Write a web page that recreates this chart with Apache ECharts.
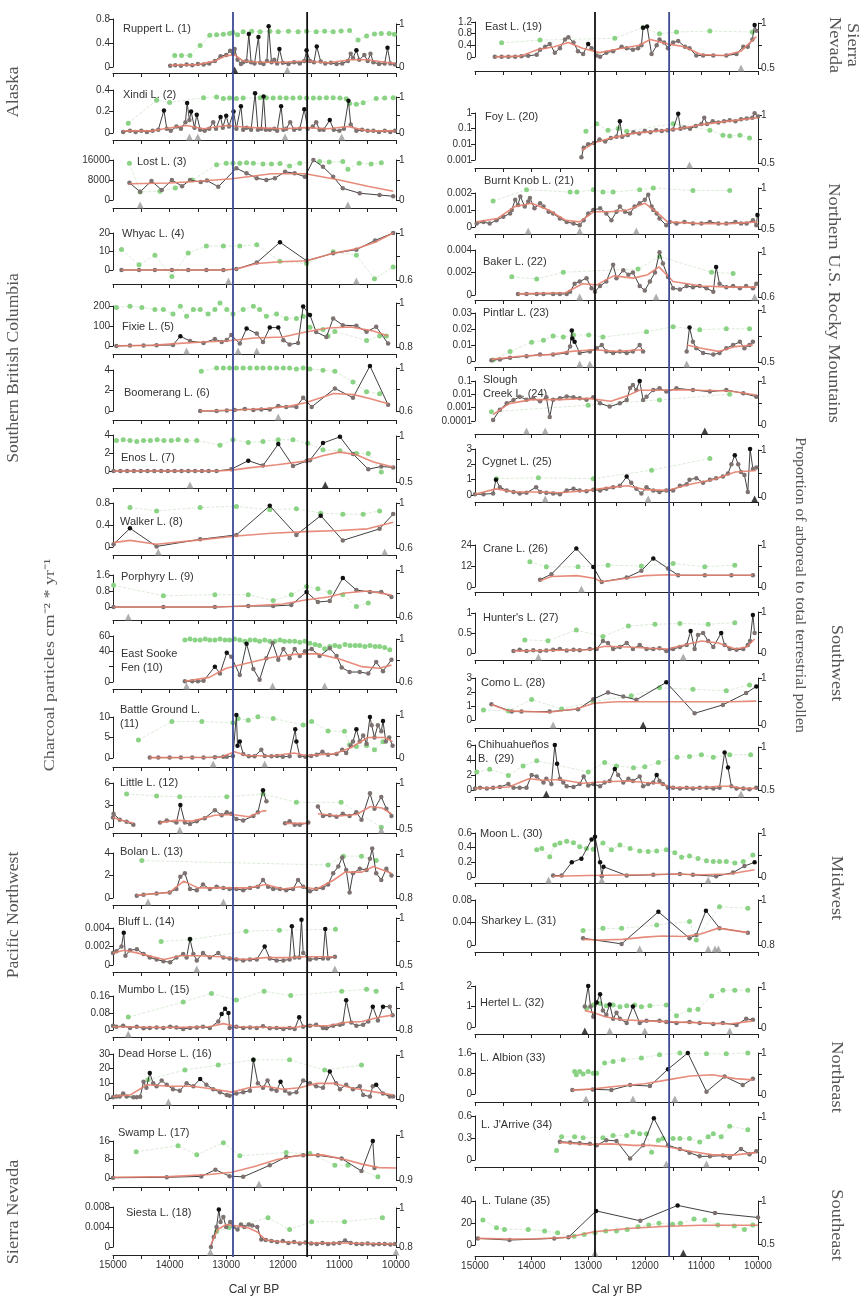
<!DOCTYPE html>
<html><head><meta charset="utf-8">
<script src="https://cdn.jsdelivr.net/npm/echarts@6/dist/echarts.min.js"></script>
<style>html,body{margin:0;padding:0;background:#fff}#c{width:862px;height:1301px}</style>
</head><body><div id="c"></div>
<script>
// ---------- DATA (age cal yr BP, value) ----------
const names = ["Ruppert L. (1)","Xindi L. (2)","Lost L. (3)","Whyac L. (4)","Fixie L. (5)","Boomerang L. (6)","Enos L. (7)","Walker L. (8)","Porphyry L. (9)","East Sooke\nFen (10)","Battle Ground L.\n(11)","Little L. (12)","Bolan L. (13)","Bluff L. (14)","Mumbo L. (15)","Dead Horse L. (16)","Swamp L. (17)","Siesta L. (18)","East L. (19)","Foy L. (20)","Burnt Knob L. (21)","Baker L. (22)","Pintlar L. (23)","Slough\nCreek L. (24)","Cygnet L. (25)","Crane L. (26)","Hunter's L. (27)","Como L. (28)","Chihuahueños\nB.  (29)","Moon L. (30)","Sharkey L. (31)","Hertel L. (32)","L. Albion (33)","L. J'Arrive (34)","L. Tulane (35)"];
const xTicks = [15000,14000,13000,12000,11000,10000];
const leftMax  = [0.8,0.4,16000,20,200,4,4,0.8,1.6,60,10,6,4,0.004,0.16,30,16,0.008, 1.2,1,0.002,0.004,0.03,0.1,3,24,1,3,6,0.6,0.08,2,1.6,0.6,40];
const leftStep = [0.4,0.2,8000,10,100,2,2,0.4,0.8,20,5,3,2,0.002,0.08,10,8,0.004, 0.4,0,0.001,0.002,0.01,0,1,12,0.5,1,2,0.2,0.04,1,0.8,0.3,20];
const leftLogMin = {19:0.001, 23:0.0001};
const leftHidden = {9:[20]};
const rightMin = [0,0,0,0.6,0.8,0.6,0.5,0.6,0.6,0.6,0,0.5,0.8,0.5,0.8,0,0.9,0.8, 0.5,0.5,0.5,0.6,0.5,0,0,0,0,0,0.5,0,0.8,0,0,0,0.5];
const youngerDryas = [12880, 11570];

const c1=[[13990,0.02],[13900,0.03],[13800,0.02],[13700,0.04],[13600,0.03],[13500,0.05],[13400,0.04],[13300,0.06],[13200,0.1],[13100,0.18],[13000,0.2],[12930,0.27],[12880,0.22],[12850,0.3],[12800,0.12],[12740,0.05],[12700,0.08],[12640,0.1],[12600,0.55],[12560,0.08],[12500,0.06],[12430,0.5],[12400,0.07],[12340,0.05],[12280,0.1],[12250,0.68],[12200,0.08],[12150,0.12],[12100,0.06],[12060,0.3],[12000,0.07],[11900,0.05],[11800,0.08],[11700,0.06],[11620,0.1],[11580,0.28],[11520,0.1],[11450,0.08],[11400,0.34],[11330,0.09],[11250,0.06],[11150,0.07],[11050,0.05],[10950,0.06],[10850,0.1],[10800,0.22],[10760,0.15],[10700,0.28],[10650,0.12],[10560,0.2],[10500,0.1],[10450,0.22],[10400,0.08],[10300,0.05],[10200,0.06],[10150,0.32],[10100,0.06],[10020,0.04]];
const s1=[[13990,0.03],[13500,0.04],[13200,0.1],[13000,0.19],[12850,0.2],[12700,0.1],[12400,0.08],[12000,0.08],[11600,0.1],[11200,0.07],[10800,0.12],[10500,0.12],[10200,0.08],[10020,0.06]];
const p1=[[13910,0.27],[13790,0.27],[13640,0.27],[13460,0.5],[13290,0.74],[13170,0.75],[13050,0.76],[12940,0.78],[12880,0.8],[12800,0.75],[12700,0.82],[12550,0.83],[12400,0.82],[12230,0.83],[12080,0.82],[11900,0.83],[11730,0.82],[11580,0.83],[11410,0.82],[11260,0.83],[11110,0.82],[10970,0.84],[10820,0.85],[10670,0.63],[10520,0.72],[10380,0.77],[10260,0.78],[10120,0.78],[10030,0.76]];
const tg1=[11920], tb1=[12850];

const c2=[[14820,0.01],[14700,0.02],[14600,0.01],[14500,0.02],[14400,0.01],[14300,0.02],[14200,0.03],[14100,0.21],[14050,0.04],[13980,0.02],[13880,0.06],[13800,0.04],[13720,0.1],[13690,0.28],[13650,0.12],[13620,0.2],[13560,0.05],[13520,0.17],[13460,0.03],[13380,0.02],[13300,0.04],[13230,0.1],[13180,0.04],[13100,0.15],[13060,0.05],[13000,0.16],[12950,0.06],[12870,0.2],[12820,0.04],[12740,0.25],[12700,0.03],[12640,0.05],[12560,0.03],[12490,0.37],[12440,0.03],[12380,0.04],[12340,0.34],[12300,0.03],[12230,0.03],[12150,0.04],[12100,0.02],[12030,0.25],[11990,0.03],[11940,0.04],[11870,0.1],[11800,0.03],[11700,0.04],[11620,0.22],[11560,0.04],[11470,0.06],[11410,0.1],[11350,0.03],[11280,0.03],[11170,0.12],[11100,0.03],[11000,0.02],[10920,0.04],[10840,0.3],[10800,0.08],[10700,0.02],[10600,0.03],[10500,0.02],[10400,0.02],[10300,0.01],[10200,0.02],[10100,0.01],[10020,0.02]];
const s2=[[14820,0.02],[14300,0.02],[14100,0.04],[13700,0.07],[13400,0.04],[13000,0.07],[12800,0.06],[12500,0.05],[12000,0.04],[11600,0.05],[11200,0.04],[10850,0.06],[10500,0.02],[10020,0.02]];
const p2=[[14730,0.27],[14230,0.91],[14000,0.85],[13400,0.98],[13170,1.0],[13050,0.96],[12940,0.97],[12820,0.96],[12700,0.97],[12400,0.98],[12290,0.98],[12170,0.97],[12050,0.98],[11940,0.97],[11820,0.97],[11700,0.98],[11580,0.97],[11460,0.97],[11350,0.97],[11230,0.98],[11110,0.98],[10990,0.97],[10880,0.95],[10820,0.82],[10700,0.8],[10580,0.84],[10350,0.96],[10200,0.97],[10050,0.98]];
const tg2=[13650,13500,11960,10960], tb2=[];

const c3=[[14710,6900],[14520,3300],[14320,7600],[14140,4000],[13960,8000],[13780,5500],[13640,8000],[13450,7200],[13340,7800],[13140,5300],[12820,12700],[12640,10700],[12460,8700],[12290,8000],[12140,8700],[11960,11300],[11790,10700],[11610,9300],[11460,16000],[11290,13300],[11110,9300],[10940,4700],[10640,2700],[10290,2000],[10050,1500]];
const s3=[[14710,6500],[14000,6800],[13500,7500],[12900,8500],[12200,10500],[11600,10500],[11000,8000],[10500,5500],[10050,3500]];
const p3=[[14710,0.92],[14520,0.2],[14170,0.22],[13900,0.3],[13600,0.5],[13170,0.88],[13000,0.92],[12880,0.92],[12760,0.92],[12640,0.93],[12520,0.92],[12350,0.9],[12200,0.9],[12050,0.91],[11880,0.85],[11700,0.92],[11350,0.96],[11180,0.95],[10940,0.96],[10850,0.77],[10650,0.92],[10440,0.9],[10260,0.93]];
const tg3=[14520,10850], tb3=[];

const c4=[[14850,0],[14540,0],[14260,0],[13960,0],[13670,0],[13350,0],[13050,0],[12820,0.5],[12460,4],[12050,15],[11580,5],[11110,9],[10700,11],[10370,16],[10050,20]];
const s4=[[14850,0],[13050,0],[12820,0.5],[12460,3.5],[12050,4.5],[11580,5],[11110,9],[10700,11.5],[10370,15],[10050,20]];
const p4=[[14850,0.86],[14540,0.73],[14260,0.81],[13960,0.63],[13670,0.83],[13350,0.89],[13050,0.89],[12760,0.89],[12460,0.9],[12050,0.76],[11580,0.74],[11110,0.84],[10700,0.81],[10380,0.61],[10050,0.71]];
const tg4=[12960,10700], tb4=[];

const c5=[[14940,0],[14700,2],[14460,3],[14230,4],[13940,5],[13810,49],[13640,25],[13400,15],[13200,35],[13080,20],[12990,30],[12910,55],[12760,12],[12640,87],[12460,62],[12350,20],[12230,92],[12080,92],[11990,29],[11880,8],[11730,15],[11640,197],[11520,155],[11410,70],[11230,45],[11110,138],[10940,104],[10700,101],[10520,71],[10350,96],[10140,12]];
const s5=[[14940,1],[14300,3],[13900,12],[13400,20],[13000,25],[12500,40],[12000,45],[11600,70],[11200,90],[10800,95],[10400,75],[10140,50]];
const p5=[[14940,0.98],[14700,0.985],[14490,0.98],[14260,0.97],[14110,0.97],[13940,0.95],[13810,0.985],[13700,0.94],[13580,0.97],[13460,0.97],[13320,0.95],[13200,0.97],[13110,1.0],[12990,0.97],[12880,0.95],[12700,0.97],[12520,0.985],[12410,0.97],[12290,0.94],[12110,0.95],[11940,0.93],[11760,0.93],[11640,0.94],[11520,0.89],[11290,0.88],[11200,0.85],[11080,0.87],[10520,0.83],[10290,0.85],[10170,0.85]];
const tg5=[13700,12790,12460], tb5=[];

const c6=[[13460,0],[13170,0],[12990,0.05],[12850,0.1],[12670,0.2],[12520,0.1],[12380,0.15],[12230,0.15],[12080,0.5],[11940,0.4],[11760,0.4],[11640,1.3],[11490,0.4],[11080,2.2],[10760,1.3],[10460,4.4],[10140,0.6]];
const s6=[[13460,0],[12800,0.1],[12300,0.25],[11900,0.45],[11600,0.8],[11100,1.7],[10750,1.6],[10450,1.2],[10140,0.7]];
const p6=[[13440,0.97],[13170,1.0],[13050,1.0],[12940,1.0],[12820,1.0],[12700,1.0],[12580,1.0],[12460,1.0],[12350,1.0],[12230,1.0],[12110,1.0],[11990,1.0],[11880,1.0],[11760,0.99],[11640,1.0],[11520,0.99],[11290,0.98],[11080,0.97],[10760,0.87],[10520,0.78],[10290,0.76]];
const tg6=[12080], tb6=[];

const c7=[[14990,0],[14870,0],[14750,0],[14630,0],[14510,0],[14390,0],[14270,0],[14150,0],[14030,0],[13910,0],[13790,0],[13670,0],[13550,0],[13430,0],[13310,0],[13170,0],[12910,0.2],[12610,1.15],[12350,0.6],[12080,3.0],[11820,0.55],[11580,1.1],[11520,1.2],[11290,3.1],[10990,3.8],[10760,1.9],[10490,0.2],[10260,0.5],[10050,0.4]];
const s7=[[14990,0],[13170,0],[12900,0.1],[12600,0.35],[12100,0.7],[11600,1.1],[11300,1.7],[11000,2.1],[10700,1.8],[10400,1.0],[10050,0.45]];
const p7=[[14940,0.95],[14820,0.96],[14700,0.95],[14580,0.94],[14460,0.95],[14340,0.95],[14220,0.96],[14100,0.95],[13970,0.95],[13850,0.96],[13700,0.95],[13520,0.95],[13110,0.9],[12880,0.96],[12610,0.93],[12350,0.94],[12080,0.96],[11820,0.96],[11560,0.92],[11290,0.85],[10990,0.84],[10700,0.81],[10490,0.81],[10260,0.61]];
const tg7=[13640], tb7=[11250];

const c8=[[14990,0.05],[14700,0.34],[14230,0.01],[13460,0.14],[12820,0.22],[12230,0.75],[11760,0.22],[11330,0.57],[10940,0.12],[10290,0.33],[10050,0.6]];
const s8=[[14990,0.08],[14700,0.12],[14230,0.05],[13460,0.13],[12820,0.2],[12200,0.25],[11600,0.28],[11000,0.3],[10500,0.33],[10050,0.45]];
const p8=[[14700,0.96],[14230,0.93],[13460,0.96],[12820,0.97],[12230,0.94],[11760,0.95],[11330,0.91],[10940,0.9],[10580,0.9],[10290,0.93]];
const tg8=[14200,10200], tb8=[];

const c9=[[14990,0],[14110,0],[13200,0],[12610,0.05],[12170,0.05],[11850,0.1],[11580,0.75],[11380,0.25],[11170,0.3],[10940,1.45],[10700,0.85],[10460,0.75],[10260,0.75],[10080,0.5]];
const s9=[[14990,0],[13200,0],[12600,0.05],[12000,0.15],[11600,0.35],[11200,0.5],[10900,0.7],[10500,0.8],[10080,0.6]];
const p9=[[14990,0.87],[14110,0.78],[13200,0.79],[12610,0.79],[12170,0.74],[11850,0.79],[11580,0.86],[11380,0.84],[11170,0.81],[10940,0.79],[10700,0.69],[10490,0.72]];
const tg9=[14730], tb9=[];

const c10=[[13730,1],[13600,1],[13500,1],[13400,1.5],[13200,20],[13110,11],[12990,38],[12910,33],[12760,9],[12640,50],[12520,17],[12410,3],[12290,31],[12180,51],[12080,29],[11990,43],[11880,31],[11790,43],[11700,34],[11610,40],[11490,43],[11350,34],[11170,44],[11050,34],[10960,19],[10820,13],[10640,13],[10490,11],[10350,26],[10230,14],[10080,29]];
const s10=[[13730,1],[13300,6],[13000,18],[12600,25],[12200,32],[11800,36],[11400,37],[11000,30],[10600,20],[10300,18],[10080,22]];
const p10=[[13730,0.99],[13640,1.0],[13550,0.99],[13460,0.99],[13370,1.0],[13290,0.99],[13200,0.99],[13110,1.0],[13020,0.99],[12940,0.99],[12850,1.0],[12760,0.99],[12670,0.98],[12580,0.99],[12490,0.99],[12410,0.98],[12320,0.99],[12230,0.98],[12140,0.98],[12050,0.99],[11970,0.98],[11880,0.98],[11790,0.98],[11700,0.97],[11610,0.98],[11520,0.96],[11430,0.95],[11350,0.94],[11260,0.91],[11170,0.93],[11080,0.94],[11000,0.93],[10900,0.95],[10810,0.94],[10720,0.94],[10640,0.94],[10550,0.93],[10460,0.94],[10370,0.93],[10290,0.93],[10200,0.92],[10110,0.9]];
const tg10=[13700,12180,11260], tb10=[];

const c11=[[14350,0.1],[14200,0.1],[14000,0.1],[13800,0.1],[13600,0.15],[13400,0.1],[13200,0.2],[13050,0.3],[12990,0.3],[12880,0.5],[12820,10.5],[12800,3],[12760,4],[12700,1],[12600,0.4],[12500,0.4],[12380,2],[12320,0.5],[12200,0.4],[12100,0.5],[12000,0.3],[11880,0.4],[11780,7],[11760,4],[11700,0.5],[11600,0.3],[11500,0.5],[11400,0.8],[11300,1.5],[11200,0.8],[11050,1],[10950,2],[10880,1.2],[10800,3],[10760,4],[10700,7],[10640,4],[10580,5.5],[10520,3.5],[10460,10],[10430,8],[10380,5],[10320,8],[10260,6.5],[10230,9],[10180,4],[10120,5],[10060,3]];
const s11=[[14350,0.1],[13100,0.2],[12850,1.5],[12650,0.6],[12200,0.5],[11800,1.2],[11600,0.6],[11100,1],[10800,2.5],[10500,5],[10200,5],[10060,4]];
const p11=[[14550,0.42],[13960,0.85],[13430,0.85],[12880,0.82],[12790,0.92],[12610,0.88],[12440,0.96],[12170,0.92],[11640,0.77],[11490,0.85],[11200,0.63],[10910,0.62],[10820,0.31],[10700,0.27],[10520,0.29],[10380,0.19],[10230,0.38]];
const tg11=[13230,12320], tb11=[];

const c12=[[15000,1.3],[14990,1.8],[14880,1.0],[14760,0.7],[14640,0.3],[14400,null],[14170,0.6],[14050,0.9],[13880,0.6],[13810,3.0],[13730,0.6],[13640,0.4],[13520,0.8],[13380,1.2],[13200,2.3],[13080,1.6],[12990,2.0],[12910,1.8],[12820,1.1],[12700,0.9],[12520,1.5],[12440,2.0],[12350,5.0],[12290,3.5],[12100,null],[11960,0.5],[11880,0.8],[11790,0.3],[11700,0.3],[11550,0.6],[11450,null],[11380,2.8],[11290,1.5],[11170,1.6],[11050,1.4],[10940,1.8],[10820,1.5],[10700,2.0],[10610,1.0],[10460,4.6],[10380,2.5],[10260,4.1],[10170,2.5],[10080,1.5]];
const s12=[[15000,1.3],[14880,1.0],[14640,0.5],[14400,null],[14170,0.6],[13900,0.9],[13600,0.8],[13200,1.6],[12900,1.7],[12600,1.4],[12350,2.2],[12290,2.2],[12100,null],[11960,0.5],[11550,0.5],[11450,null],[11380,1.8],[11000,1.5],[10700,1.7],[10450,2.8],[10250,2.6],[10080,1.8]];
const p12=[[14760,0.88],[14230,0.86],[13820,0.85],[12990,0.85],[12350,0.88],[11760,0.79],[10970,0.79],[10260,0.52]];
const tg12=[13820,10260], tb12=[];

const c13=[[14580,0.2],[14460,0.3],[14230,0.4],[14000,0.5],[13880,0.8],[13810,1.9],[13730,2.2],[13640,0.8],[13520,0.7],[13410,1.2],[13290,0.8],[13170,1.0],[13050,0.9],[12940,0.8],[12820,0.8],[12700,0.7],[12580,0.9],[12440,1.0],[12350,1.6],[12260,1.0],[12170,0.8],[12050,0.8],[11940,0.7],[11820,0.8],[11730,1.6],[11640,1.0],[11520,0.6],[11410,0.8],[11290,0.9],[11200,1.2],[11110,2.2],[11020,2.8],[10950,3.6],[10880,2.5],[10820,0.5],[10760,2.2],[10640,2.6],[10520,2.5],[10460,3.5],[10420,4.4],[10350,2.2],[10260,1.6],[10170,2.6],[10080,2.0]];
const s13=[[14580,0.25],[14000,0.5],[13750,1.5],[13500,0.9],[13000,0.9],[12600,0.9],[12300,1.2],[12000,0.8],[11700,1.0],[11400,0.8],[11100,1.6],[10900,2.3],[10600,2.3],[10400,2.8],[10080,2.2]];
const p13=[[14490,0.97],[11200,0.95],[10930,0.99],[10610,0.99],[10350,0.97]];
const tg13=[14380,13050], tb13=[];

const c14=[[15000,0.0013],[14940,0.0015],[14850,0.002],[14810,0.0035],[14780,0.001],[14700,0.0016],[14580,0.0017],[14460,0.0012],[14350,0.0008],[14230,0.0006],[14110,0.0004],[13990,0.0003],[13880,0.0008],[13760,0.0012],[13700,0.0008],[13640,0.0028],[13580,0.0012],[13520,0.0005],[13410,0.0013],[13290,0.0008],[13140,0.0013],[13050,0.0008],[12940,0.0007],[12820,0.0006],[12700,0.0005],[12580,0.0006],[12460,0.0006],[12320,0.002],[12230,0.0007],[12110,0.0005],[11990,0.0005],[11880,0.0006],[11840,0.0042],[11790,0.0008],[11710,0.0008],[11670,0.0049],[11640,0.0013],[11520,0.0006],[11410,0.0007],[11290,0.0007],[11250,0.0039],[11200,0.0007],[11080,0.0009]];
const s14=[[15000,0.0013],[14800,0.0016],[14500,0.0012],[14100,0.0006],[13800,0.001],[13500,0.001],[13100,0.0009],[12700,0.0006],[12300,0.0008],[11900,0.0008],[11600,0.0009],[11300,0.0009],[11080,0.0009]];
const p14=[[14150,0.75],[13640,0.77],[12650,0.86],[12060,0.87],[11070,0.88]];
const tg14=[13520,11080], tb14=[];

const c15=[[15000,0.02],[14940,0.015],[14820,0.02],[14700,0.01],[14580,0.015],[14460,0.008],[14350,0.01],[14230,0.012],[14110,0.01],[13990,0.015],[13880,0.012],[13760,0.005],[13640,0.01],[13520,0.012],[13410,0.015],[13290,0.01],[13140,0.04],[13080,0.075],[13020,0.1],[12960,0.08],[12940,0.01],[12820,0.015],[12700,0.01],[12580,0.012],[12460,0.01],[12350,0.018],[12230,0.008],[12110,0.01],[11990,0.005],[11880,0.01],[11790,0.005],[11710,0.06],[11640,0.015],[11520,0.02],[11410,0.025],[11290,0.01],[11230,0.008],[11110,0.02],[10990,0.025],[10940,0.03],[10880,0.14],[10790,0.035],[10700,0.02],[10580,0.025],[10490,0.04],[10410,0.11],[10320,0.045],[10230,0.11],[10110,0.11],[10060,0.07]];
const s15=[[15000,0.015],[14000,0.012],[13300,0.015],[13050,0.03],[12800,0.015],[12200,0.012],[11800,0.012],[11600,0.02],[11200,0.02],[10900,0.035],[10600,0.04],[10300,0.06],[10060,0.07]];
const p15=[[14730,0.86],[13760,0.93],[13260,0.97],[12820,0.94],[12330,0.98],[11860,0.96],[10960,0.98],[10520,0.99],[10350,0.98]];
const tg15=[14730], tb15=[];

const c16=[[15000,0.5],[14940,1],[14880,1],[14820,3],[14760,1],[14640,0.5],[14580,0.5],[14520,0.8],[14460,11],[14410,7],[14350,17],[14290,10],[14230,8],[14140,12],[14050,9],[13940,6],[13820,5],[13700,10],[13580,8],[13460,13],[13350,9],[13230,6],[13110,4],[12990,2],[12940,1.5],[12820,3],[12700,4],[12580,5],[12520,26],[12440,10],[12350,7],[12270,12],[12200,6],[12110,5],[12040,11],[11960,5],[11880,3],[11760,4],[11640,12],[11520,10],[11410,8],[11290,7],[11170,18],[11060,10],[10990,6],[10880,9],[10760,6],[10640,8],[10580,2],[10460,1],[10410,8],[10350,9],[10230,3],[10110,1],[10050,1]];
const s16=[[15000,1],[14700,2],[14400,9],[14000,8],[13600,8],[13200,6],[12900,4],[12600,7],[12300,8],[12000,6],[11700,7],[11400,10],[11100,10],[10800,7],[10500,5],[10200,3],[10050,2]];
const p16=[[14380,0.44],[13730,0.66],[13140,0.77],[12520,0.89],[11880,0.89],[11260,0.66],[10610,0.77]];
const tg16=[14020], tb16=[];

const c17=[[15000,0.1],[14050,0.3],[13440,0.7],[13190,3.6],[12940,0.8],[12700,0.5],[12230,5.5],[11940,9.1],[11640,9.8],[11380,9.8],[10960,8.4],[10610,3.0],[10410,16],[10380,4.3]];
const s17=[[15000,0.3],[14000,0.6],[13300,1.5],[12900,2.5],[12500,5],[12100,8],[11700,9.8],[11300,10],[10900,8],[10600,6],[10300,4.5],[10000,4.3]];
const p17=[[14590,0.963],[13850,0.976],[13520,0.956],[13050,0.983],[12760,0.954],[11940,0.961],[11520,0.959],[11080,0.933],[10850,0.933],[10320,0.907]];
const tg17=[12420], tb17=[];

const c18=[[13270,0],[13220,0.002],[13170,0.004],[13130,0.0075],[13100,0.005],[13050,0.006],[13000,0.004],[12930,0.005],[12870,0.004],[12800,0.0035],[12740,0.0045],[12680,0.004],[12600,0.0045],[12540,0.0043],[12450,0.004],[12380,0.0015],[12300,0.0014],[12200,0.0012],[12100,0.001],[12000,0.0012],[11900,0.0008],[11800,0.001],[11700,0.0007],[11600,0.0009],[11500,0.0007],[11400,0.0006],[11300,0.0008],[11200,0.0006],[11100,0.0007],[11000,0.0008],[10900,0.0013],[10800,0.0008],[10700,0.0006],[10600,0.0006],[10500,0.0007],[10400,0.0005],[10300,0.0006],[10200,0.0006],[10100,0.0005],[10020,0.0006]];
const s18=[[13270,0.0005],[13150,0.0035],[13000,0.0045],[12800,0.0042],[12600,0.0038],[12450,0.003],[12300,0.0014],[12000,0.001],[11500,0.0008],[11000,0.0008],[10500,0.0007],[10020,0.0006]];
const p18=[[13170,0.88],[12950,0.9],[12260,0.95],[11880,0.89],[11490,0.93],[10910,0.93],[10240,0.95]];
const tg18=[13280,10000], tb18=[];

const c19=[[14650,0.01],[14530,0.01],[14410,0.01],[14290,0.01],[14180,0.03],[14060,0.04],[13910,0.08],[13850,0.25],[13760,0.35],[13680,0.45],[13590,0.15],[13500,0.3],[13410,0.6],[13350,0.68],[13260,0.5],[13180,0.2],[13090,0.1],[13000,0.45],[12940,0.3],[12850,0.05],[12790,0.01],[12680,0.15],[12560,0.2],[12410,0.35],[12320,0.3],[12210,0.25],[12120,0.3],[12060,0.4],[12030,1.0],[11960,1.05],[11880,0.1],[11790,0.4],[11740,0.6],[11660,0.5],[11590,0.3],[11500,0.5],[11410,0.55],[11290,0.35],[11210,0.3],[11090,0.05],[10970,0.05],[10790,0.05],[10560,0.05],[10380,0.1],[10260,0.35],[10180,0.35],[10100,0.6],[10060,1.1],[10030,0.9]];
const s19=[[14650,0.01],[14200,0.03],[13900,0.25],[13600,0.35],[13350,0.5],[13100,0.3],[12800,0.15],[12400,0.3],[12100,0.4],[11900,0.6],[11600,0.45],[11300,0.35],[11000,0.08],[10600,0.05],[10300,0.2],[10030,0.7]];
const p19=[[14530,0.78],[13850,0.81],[12530,0.83],[12030,0.95],[11740,0.88],[11440,0.9],[10850,0.91],[10100,0.9]];
const tg19=[10300], tb19=[];

const c20=[[13120,0.0015],[13080,0.006],[13000,0.01],[12900,0.012],[12800,0.02],[12700,0.015],[12600,0.025],[12500,0.03],[12440,0.3],[12400,0.03],[12300,0.04],[12200,0.06],[12100,0.05],[12000,0.07],[11900,0.06],[11800,0.08],[11700,0.07],[11600,0.08],[11500,0.09],[11410,0.9],[11370,0.1],[11300,0.12],[11200,0.1],[11100,0.15],[11000,0.2],[10950,0.5],[10900,0.2],[10800,0.3],[10700,0.25],[10600,0.3],[10500,0.35],[10400,0.3],[10300,0.4],[10200,0.45],[10100,0.5],[10060,0.95],[10000,0.6]];
const s20=[[13120,0.004],[12900,0.012],[12600,0.025],[12200,0.05],[11800,0.07],[11400,0.1],[11000,0.18],[10600,0.28],[10300,0.38],[10000,0.5]];
const p20=[[13040,0.83],[12850,0.91],[12650,0.84],[12470,0.86],[12320,0.83],[11500,0.91],[10850,0.84],[10620,0.79],[10500,0.78],[10320,0.79],[10150,0.76]];
const tg20=[11210], tb20=[];

const c21=[[14970,0.0002],[14850,0.0003],[14740,0.0002],[14620,0.0004],[14500,0.0006],[14380,0.0008],[14350,0.001],[14290,0.0016],[14240,0.0013],[14200,0.0018],[14120,0.0012],[14060,0.0015],[14030,0.0017],[13950,0.0011],[13850,0.0014],[13790,0.0012],[13700,0.0009],[13620,0.0008],[13500,0.0005],[13380,0.0003],[13260,0.0002],[13150,0.0001],[13080,0.0004],[13000,0.0008],[12910,0.001],[12790,0.0011],[12680,0.0008],[12590,0.0004],[12500,0.0009],[12440,0.0012],[12350,0.0009],[12260,0.0008],[12180,0.0012],[12090,0.0014],[12000,0.0016],[11940,0.0019],[11880,0.0012],[11850,0.001],[11790,0.0008],[11740,0.0005],[11620,0.0001],[11560,0.0003],[11440,0.0002],[11300,0.0003],[11150,0.0002],[11000,0.0002],[10850,0.0003],[10700,0.0002],[10560,0.0002],[10400,0.0003],[10300,0.0002],[10200,0.0002],[10090,0.0004],[10030,0.0001],[10010,0.0007]];
const s21=[[14970,0.0003],[14600,0.0005],[14300,0.0012],[14000,0.0014],[13700,0.001],[13400,0.0004],[13150,0.0003],[12900,0.0009],[12600,0.0009],[12300,0.001],[12000,0.0014],[11800,0.0009],[11600,0.0003],[11000,0.0002],[10500,0.0002],[10010,0.0003]];
const p21=[[14680,0.84],[14090,0.98],[13320,0.95],[13200,0.95],[12910,0.98],[12740,0.95],[12560,0.95],[12090,0.98],[11850,1.0],[11150,0.97],[10500,0.97]];
const tg21=[14060,13150,12150], tb21=[];

const c22=[[14240,0.0001],[14090,0.0001],[13910,0.0001],[13790,0.0001],[13620,0.0001],[13500,0.0001],[13380,0.0001],[13320,0.0003],[13240,0.001],[13150,0.0012],[13030,0.0015],[12940,0.0006],[12880,0.0003],[12790,0.0008],[12680,0.0012],[12560,0.0027],[12500,0.0015],[12380,0.0022],[12290,0.0018],[12210,0.002],[12090,0.0008],[12000,0.0004],[11910,0.0012],[11820,0.002],[11740,0.0038],[11680,0.0028],[11590,0.0016],[11500,0.0006],[11380,0.0005],[11260,0.0008],[11150,0.0007],[11030,0.0008],[10910,0.0006],[10790,0.0003],[10740,0.0025],[10680,0.001],[10560,0.0007],[10440,0.0008],[10320,0.0006],[10210,0.0008],[10090,0.0006],[10030,0.001]];
const s22=[[14240,0.0001],[13400,0.0002],[13100,0.001],[12850,0.0009],[12550,0.0017],[12200,0.0015],[11950,0.0018],[11750,0.0025],[11500,0.0012],[11000,0.0008],[10500,0.0007],[10030,0.0007]];
const p22=[[14350,0.78],[13910,0.76],[13440,0.82],[12120,0.85],[11740,0.96],[10820,0.82],[10440,0.81]];
const tg22=[13150,11800,10060], tb22=[];

const c23=[[14710,0.0005],[14560,0.001],[14380,0.002],[14090,0.003],[13850,0.004],[13620,0.004],[13380,0.005],[13320,0.009],[13290,0.019],[13280,0.014],[13240,0.012],[13150,0.005],[12970,0.006],[12850,0.008],[12760,0.01],[12680,0.006],[12560,0.005],[12440,0.006],[12320,0.005],[12210,0.006],[12090,0.01],[12030,0.006],[11600,null],[11260,0.006],[11210,0.021],[11150,0.012],[11090,0.008],[10970,0.005],[10790,0.004],[10680,0.005],[10560,0.008],[10440,0.01],[10320,0.012],[10240,0.008],[10150,0.01],[10090,0.012]];
const s23=[[14710,0.001],[14200,0.003],[13700,0.004],[13300,0.006],[12900,0.007],[12500,0.006],[12030,0.007],[11600,null],[11260,0.01],[11000,0.008],[10700,0.006],[10400,0.009],[10090,0.01]];
const p23=[[14680,0.52],[14380,0.6],[14000,0.69],[13790,0.71],[13620,0.75],[13440,0.74],[13260,0.76],[12990,0.76],[12740,0.74],[11970,0.79],[11500,0.84],[11030,0.81],[10560,0.82],[10150,0.82]];
const tg23=[13150,12970,11260], tb23=[];

const c24=[[14680,0.00012],[14560,0.0007],[14440,0.0021],[14320,0.0037],[14210,0.0066],[14090,0.004],[13970,0.005],[13850,0.003],[13740,0.006],[13680,0.0002],[13620,0.004],[13500,0.005],[13380,0.007],[13260,0.006],[13150,0.005],[13030,0.004],[12910,0.006],[12790,0.0021],[12620,0.0012],[12440,0.0021],[12320,0.0037],[12260,0.03],[12210,0.05],[12150,0.021],[12090,0.1],[12030,0.0037],[11970,0.0066],[11850,0.021],[11740,0.028],[11620,0.016],[11440,0.028],[11150,0.021],[10850,0.016],[10560,0.021],[10260,0.012],[10030,0.0066]];
const s24=[[14680,0.0003],[14400,0.002],[14000,0.004],[13500,0.004],[13000,0.005],[12600,0.003],[12300,0.008],[12100,0.02],[11800,0.02],[11400,0.022],[11000,0.02],[10500,0.018],[10030,0.009]];
const p24=[[14710,0.3],[13000,0.45],[11740,0.57],[10500,0.7]];
const tg24=[14090,13760], tb24=[10940];

const c25=[[15000,0.05],[14850,0.05],[14680,0.1],[14630,1.0],[14560,0.5],[14440,0.3],[14320,0.2],[14210,0.1],[14090,0.15],[13920,0.5],[13850,0.2],[13740,0.15],[13620,0.1],[13500,0.05],[13380,0.3],[13260,0.4],[13150,0.3],[13030,0.25],[12910,0.35],[12790,0.3],[12680,0.4],[12560,0.5],[12440,0.6],[12320,1.2],[12240,0.8],[12150,0.4],[12060,0.1],[11970,0.5],[11850,0.3],[11740,0.2],[11620,0.3],[11500,0.3],[11380,0.6],[11260,0.7],[11210,1.0],[11090,1.1],[10970,0.8],[10850,1.0],[10740,1.1],[10620,1.2],[10530,1.4],[10470,2.0],[10410,2.6],[10350,2.0],[10300,1.5],[10240,1.3],[10180,0.2],[10140,3.0],[10090,1.7],[10030,1.8]];
const s25=[[15000,0.05],[14630,0.4],[14300,0.2],[13900,0.2],[13500,0.15],[13000,0.3],[12600,0.5],[12300,0.6],[12000,0.35],[11600,0.3],[11200,0.7],[10800,1.0],[10400,1.5],[10030,1.6]];
const p25=[[14620,0.39],[13880,0.41],[12910,0.39],[11880,0.57],[10850,0.82]];
const tg25=[13760,11940], tb25=[10060];

const c26=[[13850,4.2],[13650,7.3],[13210,22],[12910,11.5],[12760,2.9],[12320,5.4],[12060,9.3],[11850,16.3],[11590,10.6],[11410,6.7],[10940,6.7],[10470,6.7],[10090,6.7]];
const s26=[[13850,3.5],[13650,6],[13200,6.5],[12900,5],[12760,3],[12320,5],[12000,6.5],[11600,7],[11400,6.7],[10900,6.7],[10090,6.7]];
const p26=[[14030,0.6],[13740,0.48],[13180,0.48],[12650,0.52],[12060,0.5],[11500,0.56],[10940,0.48],[10410,0.52]];
const tg26=[13120], tb26=[];

const c27=[[14320,0.05],[14210,0.08],[14090,0.05],[13970,0.07],[13850,0.05],[13740,0.06],[13620,0.08],[13500,0.1],[13380,0.06],[13260,0.08],[13150,0.07],[12970,0.1],[12850,0.1],[12740,0.3],[12650,0.25],[12560,0.1],[12440,0.15],[12320,0.25],[12210,0.1],[12090,0.2],[11970,0.1],[11850,0.1],[11740,0.12],[11620,0.05],[11500,0.1],[11380,0.15],[11260,0.2],[11190,0.55],[11120,0.1],[11060,0.45],[10970,0.5],[10880,0.3],[10790,0.15],[10650,0.5],[10590,0.2],[10500,0.1],[10380,0.08],[10260,0.1],[10180,0.2],[10140,0.3],[10090,0.95],[10060,0.5]];
const s27=[[14320,0.05],[13500,0.07],[13000,0.08],[12700,0.17],[12300,0.15],[11900,0.12],[11600,0.1],[11300,0.2],[11000,0.3],[10700,0.25],[10400,0.1],[10200,0.15],[10060,0.35]];
const p27=[[14120,0.32],[13710,0.3],[13210,0.56],[12740,0.4],[12290,0.66],[11820,0.7],[11380,0.72],[10880,0.7],[10410,0.74]];
const tg27=[13880,11320], tb27=[];

const c28=[[14710,1.13],[14350,0.6],[14180,0.6],[13680,0.6],[13180,0.77],[12910,1.49],[12650,1.97],[12380,1.68],[12150,1.44],[11620,2.69],[11120,0.48],[10620,1.08],[10210,1.92],[10030,2.4]];
const s28=[[14710,1.1],[14400,0.65],[13700,0.55],[13200,0.8],[12900,1.2],[12500,1.3],[12000,1.3],[11600,1.3],[11000,1.3],[10500,1.3],[10030,1.35]];
const p28=[[14850,0.32],[14410,0.3],[14000,0.54],[13470,0.34],[12910,0.5],[12240,0.62],[11740,0.79],[11150,0.76],[10560,0.73],[10150,0.85]];
const tg28=[13620], tb28=[12030];

const c29=[[15000,0.2],[14910,0.3],[14790,0.2],[14680,0.3],[14560,0.4],[14410,0.8],[14320,0.3],[14210,0.3],[14090,0.3],[14000,2.0],[13910,1.8],[13790,1.0],[13740,1.5],[13650,0.8],[13590,6.0],[13550,3.5],[13500,1.5],[13440,1.0],[13380,0.5],[13260,0.4],[13150,0.8],[13080,1.8],[13000,0.6],[12910,0.8],[12790,0.5],[12710,1.0],[12620,1.2],[12530,2.8],[12470,2.0],[12380,1.0],[12290,1.5],[12210,1.2],[12090,1.8],[12030,0.5],[11940,0.8],[11850,1.0],[11790,2.0],[11740,1.2],[11680,0.8],[11590,0.3],[11500,0.3],[11380,0.2],[11260,0.3],[11150,0.2],[11030,0.3],[10910,0.3],[10790,0.2],[10680,0.3],[10590,5.0],[10530,3.0],[10470,0.5],[10380,0.2],[10260,0.2],[10150,0.1],[10030,0.3]];
const s29=[[15000,0.2],[14400,0.4],[14050,1.5],[13800,1.3],[13500,1.4],[13100,0.9],[12700,1.1],[12300,1.2],[12000,1.0],[11750,0.9],[11500,0.35],[11000,0.3],[10700,0.5],[10500,0.5],[10300,0.25],[10030,0.2]];
const p29=[[14970,0.71],[14740,0.74],[14410,0.67],[14150,0.78],[13910,0.84],[13000,0.71],[12710,0.82],[12500,0.78],[12200,0.76],[12000,0.77],[11760,0.82],[11430,0.88],[11210,0.89],[11000,0.91],[10790,0.88],[10500,0.91],[10130,0.91]];
const tg29=[10300], tb29=[13740];

const c30=[[13620,0.02],[13470,0.02],[13290,0.2],[13120,0.25],[12940,0.51],[12880,0.55],[12790,0.2],[12760,0.01],[12730,0.14],[12320,0.02],[11850,0.03],[11380,0.04],[11150,0.03],[10740,0.01],[10440,0.06],[10240,0.15],[10060,0.2]];
const s30=[[13620,0.01],[13000,0.02],[12000,0.03],[11500,0.04],[11000,0.03],[10500,0.04],[10060,0.1]];
const p30=[[13910,0.62],[13820,0.65],[13680,0.46],[13590,0.73],[13500,0.77],[13380,0.81],[13260,0.78],[13150,0.69],[13030,0.65],[12910,0.63],[12740,0.77],[12590,0.62],[12440,0.73],[12260,0.65],[12090,0.59],[11940,0.58],[11790,0.59],[11620,0.62],[11470,0.55],[11350,0.45],[11210,0.48],[11060,0.42],[10910,0.37],[10790,0.35],[10680,0.35],[10560,0.35],[10410,0.32],[10260,0.35],[10090,0.5]];
const tg30=[13700,12760,10880], tb30=[];

const c31=[[13090,0.012],[12410,0.002],[11760,0.059],[11210,0.012],[11090,0.018],[10920,0.061],[10680,0.03],[10180,0.022]];
const s31=[[13090,0.01],[12800,0.009],[12400,0.01],[12000,0.014],[11700,0.016],[11300,0.015],[11000,0.02],[10700,0.03],[10180,0.022]];
const p31=[[13090,0.864],[12740,0.874],[12410,0.874],[11790,0.889],[11210,0.904],[11090,0.822],[10680,0.97],[10180,0.963]];
const tg31=[12090,10880,10760,10700], tb31=[];

const c32=[[13060,1.0],[13000,2.0],[12960,1.0],[12910,0.5],[12850,1.2],[12790,1.6],[12740,0.8],[12680,0.6],[12620,1.1],[12560,0.4],[12500,0.7],[12440,0.4],[12320,0.2],[12210,1.0],[12090,0.2],[11970,0.3],[11740,0.3],[11620,0.25],[11440,0.2],[11210,0.25],[11030,0.2],[10790,0.15],[10620,0.2],[10380,0.1],[10210,0.4],[10090,0.35]];
const s32=[[13060,0.8],[12900,0.7],[12700,0.5],[12400,0.35],[12000,0.3],[11500,0.25],[11000,0.2],[10500,0.15],[10090,0.3]];
const p32=[[13030,0.48],[12910,0.56],[12790,0.6],[12680,0.54],[12560,0.56],[12440,0.52],[12320,0.54],[12180,0.56],[12060,0.52],[11910,0.54],[11620,0.56],[11440,0.3],[11210,0.44],[11060,0.46],[10820,0.78],[10620,0.92],[10410,0.92],[10180,0.92]];
const tg32=[12620,12000,10500], tb32=[13060];

const c33=[[13280,0.16],[12920,0.18],[12590,0.16],[12260,0.35],[11910,0.31],[11590,0.97],[11240,1.6],[10910,0.09],[10590,0.68],[10270,0.35],[10090,0.6]];
const s33=[[13280,0.15],[12900,0.2],[12500,0.3],[12000,0.4],[11600,0.55],[11200,0.7],[10800,0.75],[10400,0.6],[10090,0.55]];
const p33=[[13240,0.56],[13210,0.48],[13150,0.56],[13090,0.5],[13000,0.56],[12910,0.52],[12850,0.52],[12710,0.76],[12560,0.8],[12380,0.84],[12060,0.88],[11740,0.96],[11380,1.0],[10910,0.98],[10560,0.98],[10180,1.0]];
const tg33=[13040,12210,11470], tb33=[];

const c34=[[13500,0.25],[13320,0.24],[13150,0.23],[12970,0.22],[12850,0.2],[12680,0.27],[12500,0.26],[12260,0.02],[12030,0.2],[11840,0.57],[11590,0.2],[11380,0.15],[11210,0.1],[11030,0.05],[10850,0.05],[10620,0.06],[10500,0.03],[10300,0.15],[10150,0.08],[10030,0.12]];
const s34=[[13500,0.24],[13000,0.21],[12600,0.22],[12200,0.2],[11900,0.2],[11600,0.18],[11200,0.12],[10800,0.07],[10400,0.07],[10030,0.1]];
const p34=[[13560,0.24],[13470,0.55],[13240,0.55],[13090,0.53],[12740,0.53],[12560,0.58],[12320,0.58],[12210,0.66],[12090,0.62],[11970,0.62],[11880,0.2],[11760,0.47],[11680,0.51],[11500,0.51],[11380,0.51],[11210,0.51],[11030,0.43],[10880,0.55],[10790,0.62],[10650,0.55],[10500,0.79],[10180,0.71]];
const tg34=[11620,10910], tb34=[];

const c35=[[14950,6],[14390,4.5],[13600,6],[13350,7],[12860,31],[12080,22],[11420,36],[10760,29],[10000,25]];
const s35=[[14950,6],[14400,5.5],[14000,5.5],[13350,7],[12900,12],[12300,15],[11600,17],[11000,18],[10500,18],[10000,18]];
const p35=[[14860,0.78],[14620,0.69],[14480,0.67],[14060,0.67],[13770,0.65],[13540,0.63],[13250,0.59],[13070,0.61],[12880,0.63],[12690,0.65],[12500,0.65],[12310,0.67],[12120,0.7],[11930,0.72],[11750,0.74],[11510,0.73],[11370,0.74],[11130,0.79],[10940,0.78],[10710,0.72],[10420,0.71],[10240,0.67],[10090,0.72]];
const tg35=[12880], tb35=[11320];

const charcoal=[c1,c2,c3,c4,c5,c6,c7,c8,c9,c10,c11,c12,c13,c14,c15,c16,c17,c18,c19,c20,c21,c22,c23,c24,c25,c26,c27,c28,c29,c30,c31,c32,c33,c34,c35];
const smoothed=[s1,s2,s3,s4,s5,s6,s7,s8,s9,s10,s11,s12,s13,s14,s15,s16,s17,s18,s19,s20,s21,s22,s23,s24,s25,s26,s27,s28,s29,s30,s31,s32,s33,s34,s35];
const pollen=[p1,p2,p3,p4,p5,p6,p7,p8,p9,p10,p11,p12,p13,p14,p15,p16,p17,p18,p19,p20,p21,p22,p23,p24,p25,p26,p27,p28,p29,p30,p31,p32,p33,p34,p35];
const triGray=[tg1,tg2,tg3,tg4,tg5,tg6,tg7,tg8,tg9,tg10,tg11,tg12,tg13,tg14,tg15,tg16,tg17,tg18,tg19,tg20,tg21,tg22,tg23,tg24,tg25,tg26,tg27,tg28,tg29,tg30,tg31,tg32,tg33,tg34,tg35];
const triBlack=[tb1,tb2,tb3,tb4,tb5,tb6,tb7,tb8,tb9,tb10,tb11,tb12,tb13,tb14,tb15,tb16,tb17,tb18,tb19,tb20,tb21,tb22,tb23,tb24,tb25,tb26,tb27,tb28,tb29,tb30,tb31,tb32,tb33,tb34,tb35];

// ---------- LAYOUT (pixels) ----------
// [leftAxisTop, leftAxisZero, rightAxisTop, rightAxisBottom, xAxisLine, labelX, labelY]
const layout=[
 [19,67,24,67,73,123,29],[90,133,97,133,140,123,95],[160,200,160,200,208,137,162],[233,270,233,280,284,122,234],
 [306,346,303,347,354,122,327],[370,411,368,411,420,124,393],[435,471,436,482,488,121,458],[503,547,503,548,555,120,522],
 [575,607,570,617,620,121,577],[636,682,639,682,689,121,654],[717,758,715,758,767,120,710],[783,827,783,829,833,120,783],
 [853,898,854,898,905,120,852],[928,965,918,965,972,118,922],[996,1030,987,1030,1037,118,990],[1054,1098,1055,1099,1105,118,1054],
 [1141,1178,1135,1180,1187,118,1133],[1207,1247,1208,1247,1255,126,1213],
 [22,57,23,68,71,485,27],[113,160,115,163,168,485,117],[193,227,188,229,234,484,181],[250,295,252,297,300,483,262],
 [313,361,310,362,367,483,313],[381,421,381,425,434,483,380],[449,495,450,497,502,482,462],[545,587,545,587,592,483,549],
 [613,653,612,653,660,483,618],[678,720,678,725,728,481,683],[745,790,747,790,797,478,745],[833,877,833,877,883,480,834],
 [900,945,900,945,952,481,921],[986,1027,987,1028,1034,480,1003],[1053,1094,1053,1095,1102,480,1058],[1116,1160,1117,1161,1167,481,1125],
 [1201,1245,1201,1244,1256,482,1201]
];
const COLX=[113,475], PW=283;
const SANS="'Liberation Sans', Arial, sans-serif", SERIF="'Liberation Serif', 'Times New Roman', serif";

const fmt=v=>String(+(+v).toPrecision(6));
function interp(arr,a){
  const pts=arr.filter(p=>p[1]!=null);
  for(let k=0;k<pts.length-1;k++){
    const p=pts[k], q=pts[k+1];
    if((a<=p[0]&&a>=q[0])||(a>=p[0]&&a<=q[0])){ if(p[0]===q[0])return p[1]; return p[1]+(q[1]-p[1])*(a-p[0])/(q[0]-p[0]); }
  }
  return pts.length?pts[pts.length-1][1]:0;
}

const grids=[], xAxes=[], yAxes=[], series=[], graphics=[];
function xAxisCfg(gi,show,labels){
  return {gridIndex:gi,type:'value',min:10000,max:15000,inverse:true,interval:500,show:show,
    axisLine:{show:true,lineStyle:{color:'#222',width:1}},
    axisTick:{show:true,length:4,lineStyle:{color:'#222',width:1}},
    splitLine:{show:false},
    axisLabel:{show:labels,fontSize:10,color:'#333',margin:5,fontFamily:SANS,
      formatter:v=>xTicks.indexOf(Math.round(v))>=0?String(Math.round(v)):''}};
}

for(let i=0;i<35;i++){
  const L=layout[i], col=i<18?0:1, x0=COLX[col];
  const gL=3*i, gR=3*i+1, gX=3*i+2;
  grids.push({left:x0,width:PW,top:L[0],height:L[1]-L[0]});
  grids.push({left:x0,width:PW,top:L[2],height:L[3]-L[2]});
  grids.push({left:x0,width:PW,top:L[4]-10,height:10});
  xAxes.push(xAxisCfg(gL,false,false));
  xAxes.push(xAxisCfg(gR,false,false));
  xAxes.push(xAxisCfg(gX,true,i===17||i===34));
  const isLog = leftStep[i]===0;
  const hid = leftHidden[i]||[];
  const yl={gridIndex:gL,position:'left',
    axisLine:{show:true,lineStyle:{color:'#222',width:1}},
    axisTick:{show:true,length:4,lineStyle:{color:'#222'}},
    splitLine:{show:false},
    axisLabel:{fontSize:10,color:'#333',margin:3,fontFamily:SANS,
      formatter:v=>hid.some(h=>Math.abs(h-v)<1e-9)?'':fmt(v)}};
  if(isLog){ Object.assign(yl,{type:'log',logBase:10,min:leftLogMin[i],max:leftMax[i]}); }
  else { Object.assign(yl,{type:'value',min:0,max:leftMax[i],interval:leftStep[i]}); }
  yAxes.push(yl);
  const rmin=rightMin[i];
  yAxes.push({gridIndex:gR,type:'value',position:'right',min:rmin,max:1,interval:(1-rmin)/2,
    axisLine:{show:true,lineStyle:{color:'#222',width:1}},
    axisTick:{show:true,length:4,lineStyle:{color:'#222'}},
    splitLine:{show:false},
    axisLabel:{fontSize:10,color:'#333',margin:3,fontFamily:SANS,
      formatter:v=>(Math.abs(v-rmin)<1e-9||Math.abs(v-1)<1e-9)?fmt(v):''}});
  yAxes.push({gridIndex:gX,type:'value',min:0,max:1,show:false});

  // pollen proportion (right axis)
  series.push({type:'line',xAxisIndex:gR,yAxisIndex:gR,data:pollen[i],symbol:'circle',symbolSize:5,
    itemStyle:{color:'#8ad284'},lineStyle:{color:'#d3e6cf',width:0.8,type:'dashed'},z:2,clip:false,silent:true});
  // charcoal accumulation (left axis)
  const sm=smoothed[i], lm=leftMax[i];
  const cd=charcoal[i].map(p=>{
    if(p[1]==null) return [p[0],'-'];
    const s=interp(sm,p[0]);
    const peak = isLog ? (p[1]>4*s) : (p[1]>1.7*s && (p[1]-s)>0.15*lm);
    return peak?{value:[p[0],p[1]],itemStyle:{color:'#111'},symbolSize:4.5}:[p[0],p[1]];
  });
  series.push({type:'line',xAxisIndex:gL,yAxisIndex:gL,data:cd,symbol:'circle',symbolSize:4.5,connectNulls:false,
    itemStyle:{color:'#7d7270'},lineStyle:{color:'#2a2a2a',width:0.9},z:3,clip:false,silent:true});
  // background (smoothed)
  series.push({type:'line',xAxisIndex:gL,yAxisIndex:gL,data:sm.map(p=>p[1]==null?[p[0],'-']:p),symbol:'none',connectNulls:false,
    lineStyle:{color:'#e4806e',width:1.6,opacity:0.9},z:4,clip:false,silent:true});
  // dated levels
  series.push({type:'scatter',xAxisIndex:gX,yAxisIndex:gX,data:triGray[i].map(a=>[a,0]),symbol:'triangle',symbolSize:7,symbolOffset:[0,-3],
    itemStyle:{color:'#9b9b9b'},z:5,clip:false,silent:true});
  series.push({type:'scatter',xAxisIndex:gX,yAxisIndex:gX,data:triBlack[i].map(a=>[a,0]),symbol:'triangle',symbolSize:7,symbolOffset:[0,-3],
    itemStyle:{color:'#111'},z:5,clip:false,silent:true});

  graphics.push({type:'text',x:L[5],y:L[6]-7,silent:true,style:{text:names[i],font:"11px "+SANS,fill:'#333',lineHeight:14,
    textAlign:'left',textVerticalAlign:'top',align:'left',verticalAlign:'top'}});
}

// Younger Dryas boundary lines spanning each column
const colLineColors=[['#3c4a92','#111'],['#111','#3c4a92']];
for(let col=0;col<2;col++){
  const gi=grids.length;
  grids.push({left:COLX[col],width:PW,top:12,height:1245});
  xAxes.push(xAxisCfg(gi,false,false));
  yAxes.push({gridIndex:gi,type:'value',min:0,max:1,show:false});
  youngerDryas.forEach((a,k)=>{
    series.push({type:'line',xAxisIndex:gi,yAxisIndex:gi,data:[[a,0],[a,1]],symbol:'none',
      lineStyle:{color:colLineColors[col][k],width:1.8},z:20,silent:true});
  });
}

// Text labels
function vtext(t,x,y,rot,size,sx){
  return {type:'text',x:x,y:y,rotation:rot,scaleX:sx||1,silent:true,
    style:{text:t,font:size+"px "+SERIF,fill:'#555',lineHeight:size+2,textAlign:'center',textVerticalAlign:'middle',align:'center',verticalAlign:'middle'}};
}
const up=Math.PI/2, down=-Math.PI/2;
graphics.push(vtext('Alaska',14,92,up,16,1.15));
graphics.push(vtext('Southern British Columbia',14,368,up,16,1.1));
graphics.push(vtext('Pacific Northwest',14,915,up,16,1.1));
graphics.push(vtext('Sierra Nevada',14,1212,up,16,1.15));
graphics.push(vtext('Charcoal particles cm⁻² * yr⁻¹',50,665,up,15,1.2));
graphics.push(vtext('Sierra\nNevada',843,45,down,16,1.15));
graphics.push(vtext('Northern U.S. Rocky Mountains',833,303,down,16,1.15));
graphics.push(vtext('Proportion of arboreal to total terrestrial pollen',800,585,down,15,1.05));
graphics.push(vtext('Southwest',836,663,down,16,1.15));
graphics.push(vtext('Midwest',836,888,down,16,1.15));
graphics.push(vtext('Northeast',836,1077,down,16,1.15));
graphics.push(vtext('Southeast',836,1225,down,16,1.15));
[[254,'Cal yr BP'],[617,'Cal yr BP']].forEach(([x,t])=>{
  graphics.push({type:'text',x:x,y:1290,silent:true,style:{text:t,font:"12px "+SANS,fill:'#333',textAlign:'center',textVerticalAlign:'middle',align:'center',verticalAlign:'middle'}});
});

const chart=echarts.init(document.getElementById('c'),null,{renderer:'canvas',width:862,height:1301});
chart.setOption({animation:false,backgroundColor:'#fff',grid:grids,xAxis:xAxes,yAxis:yAxes,series:series,graphic:graphics});
</script></body></html>
